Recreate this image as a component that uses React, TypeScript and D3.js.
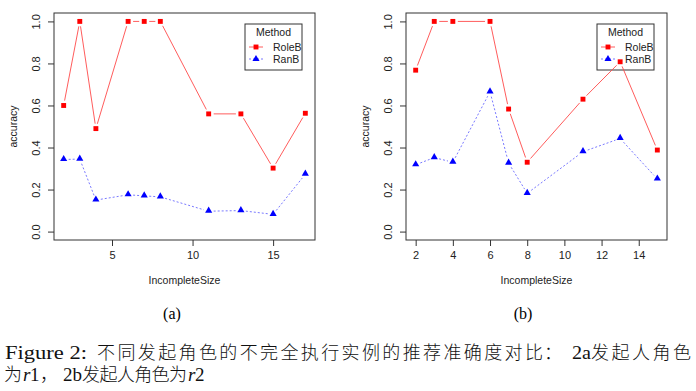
import React, { useEffect, useRef } from 'react';
import * as d3 from 'd3';

// panel (a): initiator role r1
const sizesA = [2, 3, 4, 6, 7, 8, 11, 13, 15, 17];
const roleA = [0.6, 1.0, 0.49, 1.0, 1.0, 1.0, 0.56, 0.56, 0.302, 0.563];
const ranA = [0.343, 0.345, 0.15, 0.175, 0.17, 0.165, 0.097, 0.1, 0.082, 0.273];
const xTicksA = [5, 10, 15];

// panel (b): initiator role r2
const sizesB = [2, 3, 4, 6, 7, 8, 11, 13, 15];
const roleB = [0.768, 1.0, 1.0, 1.0, 0.583, 0.33, 0.63, 0.808, 0.388];
const ranB = [0.318, 0.352, 0.33, 0.665, 0.326, 0.182, 0.38, 0.443, 0.25];
const xTicksB = [2, 4, 6, 8, 10, 12, 14];

const yTicks = [0, 0.2, 0.4, 0.6, 0.8, 1.0];

const FONT = 'Liberation Sans, Arial, sans-serif';
const SERIF = 'Liberation Serif, DejaVu Serif, serif';
const CJK = 'Noto Sans CJK SC, sans-serif';

const RED_LINE = '#ff4a4a';
const BLUE_LINE = '#6a6aff';

const drawPanel = (svg, left, right, sizes, role, ran, xTicks) => {
  const top = 13;
  const bottom = 240;
  const [lo, hi] = d3.extent(sizes);
  const pad = (hi - lo) * 0.04; // R's default 4% range extension

  const x = d3.scaleLinear().domain([lo - pad, hi + pad]).range([left, right]);
  const y = d3.scaleLinear().domain([-0.04, 1.04]).range([bottom, top]);

  const g = svg.append('g');

  // axes (R style: ticks outside, box around the plot)
  const xAxis = g
    .append('g')
    .attr('transform', `translate(0, ${bottom})`)
    .call(d3.axisBottom(x).tickValues(xTicks).tickSize(6).tickPadding(5).tickFormat(d3.format('d')));
  xAxis.select('.domain').remove();
  xAxis.selectAll('line').attr('stroke', '#333');
  xAxis.selectAll('text').attr('font-family', FONT).attr('font-size', 11).attr('fill', '#222');

  const yAxis = g
    .append('g')
    .attr('transform', `translate(${left}, 0)`)
    .call(d3.axisLeft(y).tickValues(yTicks).tickSize(6).tickFormat(d3.format('.1f')));
  yAxis.select('.domain').remove();
  yAxis.selectAll('line').attr('stroke', '#333');
  yAxis
    .selectAll('text')
    .attr('font-family', FONT)
    .attr('font-size', 11)
    .attr('fill', '#222')
    .attr('text-anchor', 'middle')
    .attr('x', 0)
    .attr('dy', 0)
    .attr('transform', `translate(-14, 0) rotate(-90)`);

  g.append('rect')
    .attr('x', left)
    .attr('y', top)
    .attr('width', right - left)
    .attr('height', bottom - top)
    .attr('fill', 'none')
    .attr('stroke', '#333')
    .attr('stroke-width', 1);

  g.append('text')
    .attr('x', (left + right) / 2)
    .attr('y', 284)
    .attr('text-anchor', 'middle')
    .attr('font-family', FONT)
    .attr('font-size', 10.5)
    .attr('fill', '#222')
    .text('IncompleteSize');

  g.append('text')
    .attr('transform', `translate(${left - 37}, ${(top + bottom) / 2}) rotate(-90)`)
    .attr('text-anchor', 'middle')
    .attr('font-family', FONT)
    .attr('font-size', 10.5)
    .attr('fill', '#222')
    .text('accuracy');

  const square = d3.symbol().type(d3.symbolSquare).size(24);
  const triangle = d3.symbol().type(d3.symbolTriangle).size(22);

  // legend first, data drawn over it
  const lw = 57;
  const lx = right - 13 - lw;
  const ly = 24;
  const legend = g.append('g').attr('transform', `translate(${lx}, ${ly})`);
  legend
    .append('rect')
    .attr('width', lw)
    .attr('height', 46)
    .attr('fill', '#fff')
    .attr('stroke', '#333');
  legend
    .append('text')
    .attr('x', lw / 2)
    .attr('y', 12)
    .attr('text-anchor', 'middle')
    .attr('font-family', FONT)
    .attr('font-size', 10.5)
    .attr('fill', '#222')
    .text('Method');

  const items = [
    { name: 'RoleB', color: RED_LINE, fill: '#ff0000', dash: 'none', sym: square },
    { name: 'RanB', color: BLUE_LINE, fill: '#0000ff', dash: '2,2', sym: triangle },
  ];
  items.forEach((it, i) => {
    const yy = 23 + i * 12;
    legend
      .append('line')
      .attr('x1', 4)
      .attr('x2', 18)
      .attr('y1', yy)
      .attr('y2', yy)
      .attr('stroke', it.color)
      .attr('stroke-width', 0.9)
      .attr('stroke-dasharray', it.dash);
    legend
      .append('path')
      .attr('d', it.sym)
      .attr('transform', `translate(11, ${yy})`)
      .attr('fill', it.fill);
    legend
      .append('text')
      .attr('x', 28)
      .attr('y', yy + 4)
      .attr('font-family', FONT)
      .attr('font-size', 10.5)
      .attr('fill', '#222')
      .text(it.name);
  });

  // type = "b": segments with gaps around the points
  const gap = 5;
  const drawSeries = (vals, color, dash) => {
    const pts = sizes.map((s, i) => [x(s), y(vals[i])]);
    const segs = d3.pairs(pts).filter(([a, b]) => Math.hypot(b[0] - a[0], b[1] - a[1]) > gap * 2);
    g.append('g')
      .selectAll('line')
      .data(segs)
      .enter()
      .append('line')
      .each(function ([[x0, y0], [x1, y1]]) {
        const len = Math.hypot(x1 - x0, y1 - y0);
        const ux = (x1 - x0) / len;
        const uy = (y1 - y0) / len;
        d3.select(this)
          .attr('x1', x0 + ux * gap)
          .attr('y1', y0 + uy * gap)
          .attr('x2', x1 - ux * gap)
          .attr('y2', y1 - uy * gap);
      })
      .attr('stroke', color)
      .attr('stroke-width', 0.9)
      .attr('stroke-dasharray', dash);
  };

  drawSeries(role, RED_LINE, 'none');
  drawSeries(ran, BLUE_LINE, '2,2');

  g.append('g')
    .selectAll('path')
    .data(role)
    .enter()
    .append('path')
    .attr('d', square)
    .attr('transform', (d, i) => `translate(${x(sizes[i])}, ${y(d)})`)
    .attr('fill', '#ff0000');

  g.append('g')
    .selectAll('path')
    .data(ran)
    .enter()
    .append('path')
    .attr('d', triangle)
    .attr('transform', (d, i) => `translate(${x(sizes[i])}, ${y(d) - 0.5})`)
    .attr('fill', '#0000ff');
};

// caption pieces: [text, x, font, italic, textLength]
const caption1 = [
  ['Figure 2:', 5, SERIF, false, 82],
  ['不同发起角色的不完全执行实例的推荐准确度对比', 97, CJK, false, 446],
  ['：', 544, CJK, false, null],
  ['2a', 572, SERIF, false, 19],
  ['发起人角色', 591, CJK, false, 100],
];
const caption2 = [
  ['为', 4, CJK, false, null],
  ['r', 23, SERIF, true, null],
  ['1', 30, SERIF, false, null],
  ['，', 40, CJK, false, null],
  ['2b', 63, SERIF, false, 19],
  ['发起人角色为', 82, CJK, false, 105],
  ['r', 188, SERIF, true, null],
  ['2', 195, SERIF, false, null],
];

const App = () => {
  const svgRef = useRef(null);

  useEffect(() => {
    const svg = d3.select(svgRef.current);
    svg.selectAll('*').remove();

    drawPanel(svg, 54, 315, sizesA, roleA, ranA, xTicksA);
    drawPanel(svg, 406, 667, sizesB, roleB, ranB, xTicksB);

    svg.append('text').attr('x', 172).attr('y', 319).attr('text-anchor', 'middle')
      .attr('font-family', SERIF).attr('font-size', 16).text('(a)');
    svg.append('text').attr('x', 523).attr('y', 319).attr('text-anchor', 'middle')
      .attr('font-family', SERIF).attr('font-size', 16).text('(b)');

    const drawLine = (pieces, baseline) => {
      pieces.forEach(([t, px, font, italic, len]) => {
        const el = svg.append('text')
          .attr('x', px)
          .attr('y', baseline)
          .attr('font-family', font)
          .attr('font-size', font === CJK ? 18 : 19)
          .attr('font-weight', font === CJK ? 300 : 400)
          .attr('font-style', italic ? 'italic' : 'normal')
          .attr('fill', '#111')
          .text(t);
        if (len) {
          el.attr('textLength', len)
            .attr('lengthAdjust', font === CJK ? 'spacing' : 'spacingAndGlyphs');
        }
      });
    };
    drawLine(caption1, 359);
    drawLine(caption2, 381);
  }, []);

  return (
    <svg
      ref={svgRef}
      width={696}
      height={391}
      style={{ position: 'absolute', left: 0, top: 0, background: '#fff' }}
    />
  );
};

export default App;
